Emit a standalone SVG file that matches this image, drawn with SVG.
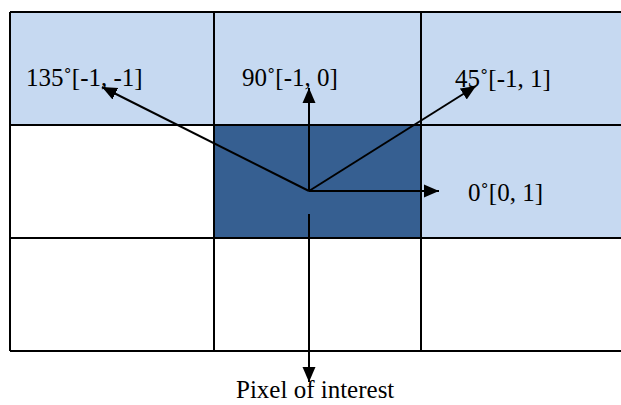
<svg xmlns="http://www.w3.org/2000/svg" width="621" height="405" viewBox="0 0 621 405">
<style>
.light{fill:#c6d9f1}
.dark{fill:#365f91}
.white{fill:#ffffff}
.grid{stroke:#000;stroke-width:2;fill:none}
.lbl{font-family:"Liberation Serif","Times New Roman",serif;font-size:25px;fill:#000}
.arr{stroke:#000;stroke-width:2;fill:none;marker-end:url(#ah)}
</style>
<defs>
<marker id="ah" markerUnits="userSpaceOnUse" markerWidth="16" markerHeight="14" refX="15" refY="7" orient="auto">
<path d="M0,0.5 L15,7 L0,13.5 z" fill="#000"/>
</marker>
</defs>
<rect width="621" height="405" fill="#fff"/>
<g id="cells">
<g id="cell-135"><rect class="light" x="10" y="12" width="204" height="113"/></g>
<g id="cell-90"><rect class="light" x="214" y="12" width="207" height="113"/></g>
<g id="cell-45"><rect class="light" x="421" y="12" width="201" height="113"/></g>
<g id="cell-mid-left"><rect class="white" x="10" y="125" width="204" height="113"/></g>
<g id="cell-center"><rect class="dark" x="214" y="125" width="207" height="113"/></g>
<g id="cell-0"><rect class="light" x="421" y="125" width="201" height="113"/></g>
<g id="cell-bot-left"><rect class="white" x="10" y="238" width="204" height="113"/></g>
<g id="cell-bot-mid"><rect class="white" x="214" y="238" width="207" height="113"/></g>
<g id="cell-bot-right"><rect class="white" x="421" y="238" width="201" height="113"/></g>
</g>
<g id="gridlines" class="grid">
<path d="M10,12 H622 M10,125 H622 M10,238 H622 M10,351 H622 M10,12 V351 M214,12 V351 M421,12 V351"/>
</g>
<g id="connectors">
<line class="arr" x1="309" y1="191" x2="102" y2="87"/>
<line class="arr" x1="309" y1="191" x2="309" y2="88"/>
<line class="arr" x1="309" y1="191" x2="476" y2="86"/>
<line class="arr" x1="309" y1="191" x2="439" y2="191"/>
<line class="arr" x1="309" y1="214" x2="309" y2="382"/>
</g>
<g id="label-135"><text class="lbl" x="26" y="86">135˚[-1, -1]</text></g>
<g id="label-90"><text class="lbl" x="242" y="86">90˚[-1, 0]</text></g>
<g id="label-45"><text class="lbl" x="455" y="87">45˚[-1, 1]</text></g>
<g id="label-0"><text class="lbl" x="468" y="201">0˚[0, 1]</text></g>
<g id="label-pixel"><text class="lbl" x="236" y="398">Pixel of interest</text></g>
</svg>
